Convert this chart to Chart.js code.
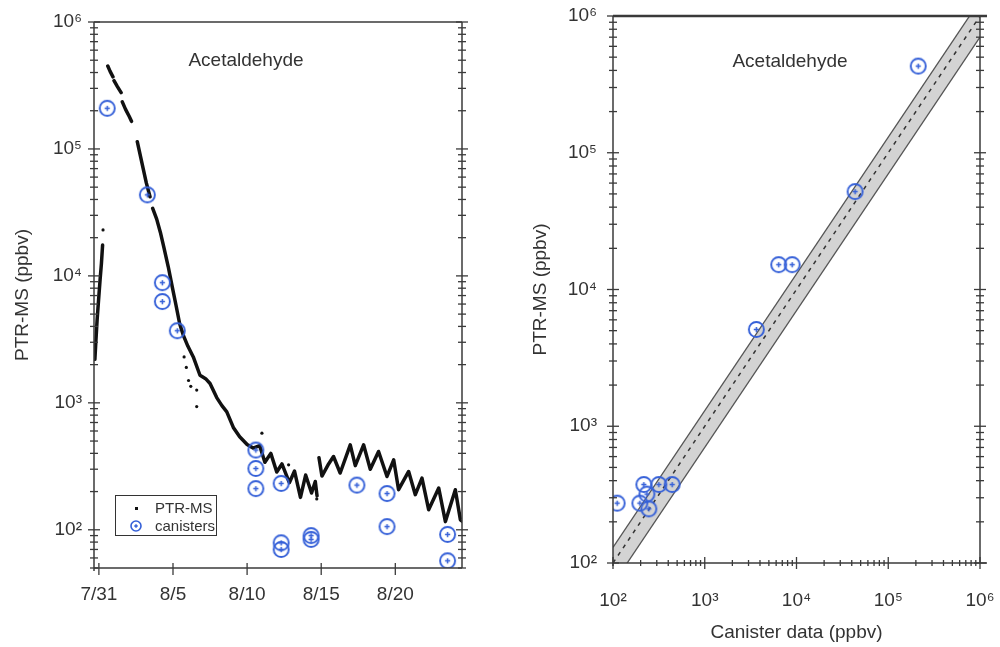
<!DOCTYPE html>
<html>
<head>
<meta charset="utf-8">
<script src="https://cdn.jsdelivr.net/npm/chart.js@4.4.1/dist/chart.umd.min.js"></script>
<style>
  body { margin: 0; background: #fff; font-family: "Liberation Sans", Arial, sans-serif; }
  #wrap { position: relative; width: 1000px; height: 647px; }
  .pane { position: absolute; top: 0; width: 500px; height: 647px; }
  .name { position: absolute; transform: translate(-50%, -50%); font-size: 19px; color: #333; white-space: nowrap; }
  #legend { position: absolute; left: 115px; top: 495px; width: 100px; height: 39px; border: 1.5px solid #333; font-size: 15px; color: #333; }
  #legend .row { position: absolute; left: 0; height: 18px; line-height: 18px; }
  #legend .txt { position: absolute; left: 39px; }
  #legend .dot { position: absolute; left: 19px; top: 8px; width: 3px; height: 3px; background: #111; }
  #legMark { position: absolute; left: 13px; top: 2px; }
</style>
</head>
<body>
<div id="wrap">
  <div class="pane" style="left:0"><canvas id="left"></canvas></div>
  <div class="pane" style="left:500px"><canvas id="right"></canvas></div>
  <div class="name" style="left:246px;top:60px">Acetaldehyde</div>
  <div class="name" style="left:790px;top:61px">Acetaldehyde</div>
  <div id="legend">
    <div class="row" style="top:3px;width:100px"><span class="dot"></span><span class="txt">PTR-MS</span></div>
    <div class="row" style="top:21px;width:100px"><canvas id="legMark" width="14" height="14"></canvas><span class="txt">canisters</span></div>
  </div>
</div>
<script>
// time axis: days after 7/31
const dayTicks = [0, 5, 10, 15, 20];
const dayLabels = ['7/31', '8/5', '8/10', '8/15', '8/20'];
const decadeTicks = [1e2, 1e3, 1e4, 1e5, 1e6];

// PTR-MS trace (null = data gap)
const ptrDays = [-0.27, -0.2, -0.12, -0.02, 0.08, 0.17, 0.25, 0.4,
  0.6, 0.75, 0.95, 0.98, 1.02, 1.25, 1.5, 1.53, 1.58, 1.8, 2.05, 2.2, 2.4,
  2.59, 2.8, 3.0, 3.2, 3.45, 3.55,
  3.63, 3.9, 4.15, 4.4, 4.68, 4.95, 5.2, 5.45, 5.7, 6.0, 6.37, 6.82, 7.2, 7.5, 7.95,
  8.3, 8.63, 9.07, 9.5, 10.0, 10.4, 10.85, 11.2, 11.6, 12.0, 12.35, 12.85, 13.2,
  13.6, 13.95, 14.35, 14.6, 14.72, 14.78,
  14.85, 15.05, 15.5, 15.83, 16.28, 16.96, 17.3, 17.86, 18.31, 18.87, 19.44, 19.89,
  20.22, 20.9, 21.35, 21.8, 22.25, 22.93, 23.38, 24.05, 24.39, 24.6];
const ptrVals = [2200, 3100, 4500, 6500, 9300, 12500, 17500, null,
  450000, 410000, 370000, null, 345000, 310000, 278000, null, 235000, 205000, 180000, 165000, null,
  114000, 88000, 69000, 54000, 42000, null,
  34000, 28000, 22000, 16500, 11800, 8200, 5900, 4200, 3400, 2800, 2300, 1650, 1550, 1420, 1100,
  950, 850, 640, 540, 470, 440, 460, 340, 400, 285, 330, 235, 290,
  180, 270, 195, 240, 185, null,
  370, 265, 330, 378, 280, 467, 320, 467, 300, 414, 263, 356,
  207, 288, 189, 255, 144, 213, 116, 207, 120, 115];
// stray PTR-MS points off the main trace
const strayDays = [0.28, 5.75, 5.9, 6.05, 6.2, 6.6, 6.6, 11.0, 12.8, 14.7];
const strayVals = [23000, 2300, 1900, 1500, 1350, 1260, 935, 577, 325, 175];

// canister samples vs time
const canDays = [0.56, 3.27, 4.28, 4.28, 5.29, 10.59, 10.59, 10.59, 12.3, 12.3, 12.3, 14.32, 14.32, 17.41, 19.44, 19.44, 23.53, 23.53];
const canVals = [209000, 43500, 8850, 6280, 3700, 425, 304, 211, 232, 79, 70, 90, 84, 225, 193, 106, 92, 57];

// canister vs PTR-MS
const canX = [212000, 43500, 6400, 8970, 3650, 111, 196, 246, 234, 217, 316, 441];
const canY = [430000, 52000, 15200, 15200, 5100, 274, 274, 249, 319, 375, 375, 375];

// 1:1 line and +/-30% band
const lineX = [100, 1000000];
const lineY = [100, 1000000];
const bandHi = [130, 1300000];
const bandLo = [70, 700000];

const blue = '#3560d8';
const ink = '#333';
const sup = ['\u2070', '\u00b9', '\u00b2', '\u00b3', '\u2074', '\u2075', '\u2076'];
const font = { family: '"Liberation Sans", Arial, sans-serif', size: 19 };

function pts(xs, ys) { return xs.map((x, i) => ({ x: x, y: ys[i] })); }

function canisterMark(r) {
  const c = document.createElement('canvas');
  const s = Math.ceil(2 * r + 4);
  c.width = c.height = s;
  drawMark(c.getContext('2d'), s / 2, r, 1.9);
  return c;
}
function drawMark(g, m, r, w) {
  g.strokeStyle = blue;
  g.lineWidth = w;
  g.beginPath(); g.arc(m, m, r, 0, Math.PI * 2); g.stroke();
  g.lineWidth = 1.5;
  const k = r * 0.35;
  g.beginPath();
  g.moveTo(m - k, m); g.lineTo(m + k, m);
  g.moveTo(m, m - k); g.lineTo(m, m + k);
  g.stroke();
}
drawMark(document.getElementById('legMark').getContext('2d'), 7, 5, 1.6);
const mark = canisterMark(7.5);

function decadeLabel(v) {
  const l = Math.log10(v);
  return Math.abs(l - Math.round(l)) < 1e-6 ? '10' + sup[Math.round(l)] : '';
}

function logMarks(s) {
  const out = [];
  for (let e = Math.floor(Math.log10(s.min)); e <= Math.ceil(Math.log10(s.max)); e++) {
    for (let k = 1; k <= 9; k++) {
      const v = k * Math.pow(10, e);
      if (v >= s.min * 0.999 && v <= s.max * 1.001) out.push([v, k === 1]);
    }
  }
  return out;
}

function seg(ctx, x1, y1, x2, y2) {
  ctx.beginPath(); ctx.moveTo(x1, y1); ctx.lineTo(x2, y2); ctx.stroke();
}

// fixed axis size, and no extra room for labels hanging over the ends
function fixSize(prop, size) {
  return s => {
    s[prop] = size;
    s.paddingLeft = s.paddingRight = s.paddingTop = s.paddingBottom = 0;
  };
}

// box with crossing tick marks on every side that has them
const frame = {
  id: 'frame',
  afterDraw(chart, args, o) {
    const { ctx, chartArea: a } = chart;
    const xs = chart.scales.x, ys = chart.scales.y;
    const ext = o.extend || 0;
    ctx.save();
    ctx.strokeStyle = '#3a3a3a';
    ctx.lineWidth = 1.5;
    seg(ctx, a.left, a.bottom, a.right + ext, a.bottom);
    seg(ctx, a.left, a.top, a.left, a.bottom + 3);
    seg(ctx, a.right, a.top, a.right, a.bottom);
    ctx.lineWidth = o.topWidth || 1.5;
    seg(ctx, a.left, a.top, a.right + ext, a.top);
    ctx.lineWidth = 1.3;
    logMarks(ys).forEach(([v, major]) => {
      const p = ys.getPixelForValue(v), len = major ? 6 : 4;
      seg(ctx, a.left - len, p, a.left + len, p);
      seg(ctx, a.right - len, p, a.right + len, p);
    });
    if (xs.type === 'logarithmic') {
      logMarks(xs).forEach(([v, major]) => {
        const p = xs.getPixelForValue(v), len = major ? 6 : 3;
        seg(ctx, p, a.bottom - len, p, a.bottom + len);
      });
    } else {
      xs.ticks.forEach(t => {
        const p = xs.getPixelForValue(t.value);
        seg(ctx, p, a.bottom - 5, p, a.bottom + 7);
      });
    }
    ctx.restore();
  }
};

Chart.register(frame);

new Chart(document.getElementById('left'), {
  type: 'scatter',
  data: {
    datasets: [
      {
        label: 'canisters',
        data: pts(canDays, canVals),
        pointStyle: mark,
        order: 0
      },
      {
        label: 'PTR-MS',
        data: pts(ptrDays, ptrVals),
        showLine: true,
        spanGaps: false,
        borderColor: '#111',
        borderWidth: 3.5,
        borderJoinStyle: 'round',
        borderCapStyle: 'round',
        pointRadius: 0,
        order: 1
      },
      {
        label: 'PTR-MS stray',
        data: pts(strayDays, strayVals),
        pointRadius: 1.6,
        pointBackgroundColor: '#111',
        pointBorderWidth: 0,
        order: 1
      }
    ]
  },
  options: {
    responsive: true,
    maintainAspectRatio: false,
    animation: false,
    layout: { padding: { left: 0, right: 38, top: 22, bottom: 0 } },
    plugins: { legend: { display: false }, tooltip: { enabled: false }, frame: { topWidth: 1.5 } },
    scales: {
      x: {
        type: 'linear',
        min: -0.33,
        max: 24.5,
        afterBuildTicks: s => { s.ticks = dayTicks.map(v => ({ value: v })); },
        afterFit: fixSize('height', 79),
        grid: { display: false, drawTicks: false },
        border: { display: false },
        ticks: {
          color: ink, font: font, padding: 15, autoSkip: false, maxRotation: 0,
          callback: v => dayLabels[dayTicks.indexOf(v)]
        }
      },
      y: {
        type: 'logarithmic',
        min: 50,
        max: 1000000,
        afterBuildTicks: s => { s.ticks = decadeTicks.map(v => ({ value: v })); },
        afterFit: fixSize('width', 94),
        grid: { display: false, drawTicks: false },
        border: { display: false },
        ticks: { color: ink, font: font, padding: 12, autoSkip: false, callback: decadeLabel },
        title: { display: true, text: 'PTR-MS (ppbv)', color: ink, font: font, padding: { top: 11, bottom: 0 } }
      }
    }
  }
});

new Chart(document.getElementById('right'), {
  type: 'scatter',
  data: {
    datasets: [
      {
        label: 'canisters',
        data: pts(canX, canY),
        pointStyle: mark,
        order: 0
      },
      {
        label: '1:1',
        data: pts(lineX, lineY),
        showLine: true,
        borderColor: '#333',
        borderWidth: 1.5,
        borderDash: [4, 5],
        pointRadius: 0,
        order: 1
      },
      {
        label: '+30%',
        data: pts(lineX, bandHi),
        showLine: true,
        borderColor: '#555',
        borderWidth: 1.3,
        pointRadius: 0,
        order: 2
      },
      {
        label: '-30%',
        data: pts(lineX, bandLo),
        showLine: true,
        borderColor: '#555',
        borderWidth: 1.3,
        pointRadius: 0,
        backgroundColor: '#d3d3d3',
        fill: 2,
        order: 3
      }
    ]
  },
  options: {
    responsive: true,
    maintainAspectRatio: false,
    animation: false,
    layout: { padding: { left: 0, right: 20, top: 16, bottom: 0 } },
    plugins: { legend: { display: false }, tooltip: { enabled: false }, frame: { topWidth: 2.5, extend: 7 } },
    scales: {
      x: {
        type: 'logarithmic',
        min: 100,
        max: 1000000,
        afterBuildTicks: s => { s.ticks = decadeTicks.map(v => ({ value: v })); },
        afterFit: fixSize('height', 84),
        grid: { display: false, drawTicks: false },
        border: { display: false },
        ticks: { color: ink, font: font, padding: 26, autoSkip: false, maxRotation: 0, callback: decadeLabel },
        title: { display: true, text: 'Canister data (ppbv)', color: ink, font: font, padding: { top: 0, bottom: 3 } }
      },
      y: {
        type: 'logarithmic',
        min: 100,
        max: 1000000,
        afterBuildTicks: s => { s.ticks = decadeTicks.map(v => ({ value: v })); },
        afterFit: fixSize('width', 113),
        grid: { display: false, drawTicks: false },
        border: { display: false },
        ticks: { color: ink, font: font, padding: 16, autoSkip: false, callback: decadeLabel },
        title: { display: true, text: 'PTR-MS (ppbv)', color: ink, font: font, padding: { top: 29, bottom: 0 } }
      }
    }
  }
});
</script>
</body>
</html>
